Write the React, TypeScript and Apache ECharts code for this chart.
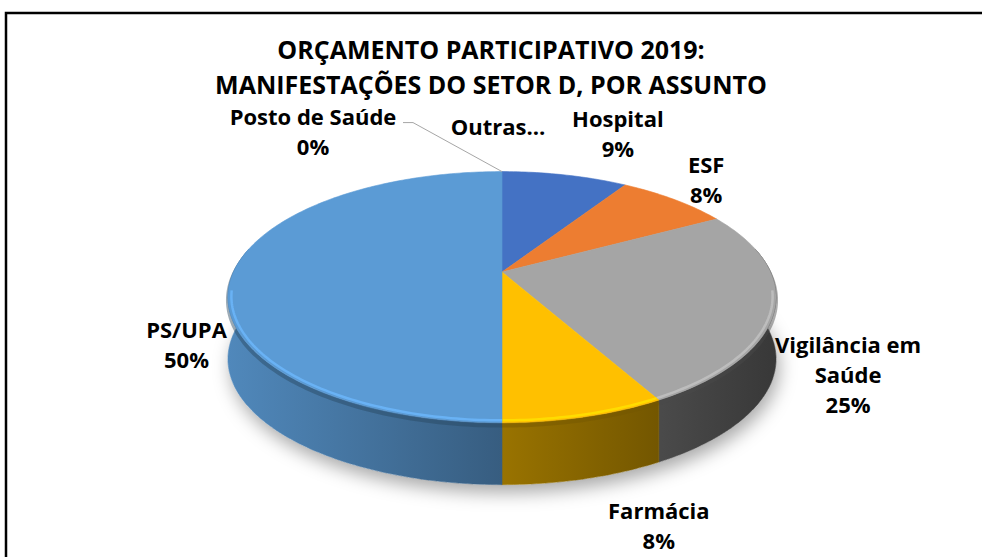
import React, { useEffect, useRef } from 'react';
import * as echarts from 'echarts';

// ---- data ----
const TITLE_LINES = ['ORÇAMENTO PARTICIPATIVO 2019:', 'MANIFESTAÇÕES DO SETOR D, POR ASSUNTO'];
const categories = ['Hospital', 'ESF', 'Vigilância em Saúde', 'Farmácia', 'PS/UPA', 'Posto de Saúde', 'Outras…'];
const values = [9, 8, 25, 8, 50, 0, 0];
const colors = ['#4472C4', '#ED7D31', '#A5A5A5', '#FFC000', '#5B9BD5', '#70AD47', '#264478'];
const showPercent = [true, true, true, true, true, true, false];

// ---- layout (not data) ----
const labelText = ['Hospital', 'ESF', 'Vigilância em\nSaúde', 'Farmácia', 'PS/UPA', 'Posto de Saúde', 'Outras…'];
const labelNudge: number[][] = [[53, -42], [32, -20], [73, 66], [74, 108], [-47, 72], [-189, -41], [-4, -46]];
const leaderFor = [false, false, false, false, false, true, false];

const GEO = { cx: 502, cy: 272, R: 268.5, A: 120.5, K: 0.2, D: 62 };
const FONT = '"Open Sans", "Liberation Sans", sans-serif';

const total = values.reduce((a, b) => a + b, 0);
const starts: number[] = [];
const ends: number[] = [];
{
  let acc = 0;
  values.forEach((v) => {
    starts.push((acc / total) * Math.PI * 2);
    acc += v;
    ends.push((acc / total) * Math.PI * 2);
  });
}

function proj(theta: number, r = 1): number[] {
  const c = Math.cos(theta);
  const s = Math.sin(theta);
  const f = 1 / (1 + GEO.K * r * c);
  return [GEO.cx + GEO.R * r * s * f, GEO.cy - GEO.A * r * c * f];
}

function arcPts(a0: number, a1: number, r = 1, drop = 0): number[][] {
  const n = Math.max(2, Math.ceil((a1 - a0) / (Math.PI / 180)));
  const pts: number[][] = [];
  for (let k = 0; k <= n; k++) {
    const t = a0 + ((a1 - a0) * k) / n;
    const p = proj(t, r);
    pts.push([p[0], p[1] + drop]);
  }
  return pts;
}

function shade(hex: string, f: number): string {
  const h = hex.replace('#', '');
  const r = parseInt(h.slice(0, 2), 16);
  const g = parseInt(h.slice(2, 4), 16);
  const b = parseInt(h.slice(4, 6), 16);
  const cl = (x: number) => Math.max(0, Math.min(255, Math.round(x)));
  return `rgb(${cl(r * f)},${cl(g * f)},${cl(b * f)})`;
}

function wallGradient(c: string) {
  const x0 = GEO.cx - 274;
  const x1 = GEO.cx + 274;
  return new echarts.graphic.LinearGradient(x0, 0, x1, 0, [
    { offset: 0, color: shade(c, 0.88) },
    { offset: 0.5, color: shade(c, 0.6) },
    { offset: 1, color: shade(c, 0.34) },
  ], true);
}

function renderWall(params: any, api: any) {
  const i = params.dataIndex;
  const v = api.value(0);
  const children: any[] = [];
  if (i === 0) {
    const outline = arcPts(0, Math.PI * 2, 1, GEO.D);
    children.push({
      type: 'polygon',
      z2: -10,
      shape: { points: outline },
      style: {
        fill: '#ffffff',
        shadowBlur: 18,
        shadowColor: 'rgba(0,0,0,0.34)',
        shadowOffsetX: 3,
        shadowOffsetY: 8,
      },
    });
  }
  if (v > 0) {
    const lo = Math.max(starts[i], Math.PI / 2 - 0.2);
    const hi = Math.min(ends[i], (3 * Math.PI) / 2 + 0.2);
    if (hi > lo) {
      const top = arcPts(lo, hi, 1, 0);
      const bottom = arcPts(lo, hi, 1, GEO.D).reverse();
      const c = colors[i];
      children.push({
        type: 'polygon',
        z2: 0,
        shape: { points: top.concat(bottom) },
        style: { fill: wallGradient(c), stroke: wallGradient(c), lineWidth: 0.6 },
      });
      // dark band just under the bevel
      children.push({
        type: 'polyline',
        z2: 1,
        shape: { points: arcPts(lo, hi, 1, 3) },
        style: { stroke: shade(c, 0.45), lineWidth: 4, opacity: 0.45, fill: null },
      });
    }
  }
  return { type: 'group', children };
}

function renderTop(params: any, api: any) {
  const i = params.dataIndex;
  const v = api.value(0);
  const children: any[] = [];
  if (v > 0) {
    const c = colors[i];
    const pts = [[GEO.cx, GEO.cy]].concat(arcPts(starts[i], ends[i], 1, 0));
    children.push({
      type: 'polygon',
      shape: { points: pts },
      style: { fill: c, stroke: c, lineWidth: 0.6 },
    });
    const lo = Math.max(starts[i], Math.PI / 2 + 0.15);
    const hi = Math.min(ends[i], (3 * Math.PI) / 2 - 0.15);
    if (hi > lo) {
      children.push({
        type: 'polyline',
        shape: { points: arcPts(lo, hi, 0.988, 0) },
        style: { stroke: shade(c, 1.2), lineWidth: 2.5, opacity: 0.75, fill: null },
      });
    }
  }
  return { type: 'group', children };
}

function renderLabel(params: any, api: any) {
  const i = params.dataIndex;
  const v = api.value(0);
  const mid = (starts[i] + ends[i]) / 2;
  const anchor = proj(mid, 1);
  const x = anchor[0] + labelNudge[i][0];
  const y = anchor[1] + labelNudge[i][1];
  const pct = Math.round((v / total) * 100) + '%';
  const text = showPercent[i] ? labelText[i] + '\n' + pct : labelText[i];
  const children: any[] = [
    {
      type: 'text',
      x,
      y,
      style: {
        text,
        fill: '#000000',
        font: `bold 22px ${FONT}`,
        align: 'center',
        verticalAlign: 'middle',
        lineHeight: 30,
      },
    },
  ];
  if (leaderFor[i]) {
    const sx = x + 90;
    const sy = y - 8;
    children.push({
      type: 'polyline',
      shape: { points: [[sx, sy], [sx + 10, sy], [anchor[0], anchor[1]]] },
      style: { stroke: '#a6a6a6', lineWidth: 1, fill: null },
    });
  }
  return { type: 'group', children };
}

export default function App() {
  const ref = useRef<HTMLDivElement>(null);
  useEffect(() => {
    if (!ref.current) return;
    const chart = echarts.init(ref.current, null, { renderer: 'svg' });
    const seriesData = values.map((v, i) => ({ value: v, name: categories[i] }));
    chart.setOption({
      animation: false,
      backgroundColor: '#ffffff',
      title: {
        text: TITLE_LINES.join('\n'),
        left: 'center',
        top: 26,
        textStyle: {
          fontFamily: FONT,
          fontWeight: 'bold',
          fontSize: 25,
          lineHeight: 35,
          color: '#000000',
        },
      },
      graphic: [
        {
          type: 'rect',
          shape: { x: 6, y: 13, width: 1000, height: 600 },
          style: { fill: 'none', stroke: '#000000', lineWidth: 2.5 },
          silent: true,
        },
      ],
      series: [
        { type: 'custom', name: 'walls', coordinateSystem: 'none', z: 1, silent: true, data: seriesData, renderItem: renderWall },
        { type: 'custom', name: 'tops', coordinateSystem: 'none', z: 2, silent: true, data: seriesData, renderItem: renderTop },
        { type: 'custom', name: 'labels', coordinateSystem: 'none', z: 3, silent: true, data: seriesData, renderItem: renderLabel },
      ],
    });
    return () => chart.dispose();
  }, []);
  return <div ref={ref} style={{ position: 'fixed', left: 0, top: 0, width: 982, height: 557 }} />;
}
